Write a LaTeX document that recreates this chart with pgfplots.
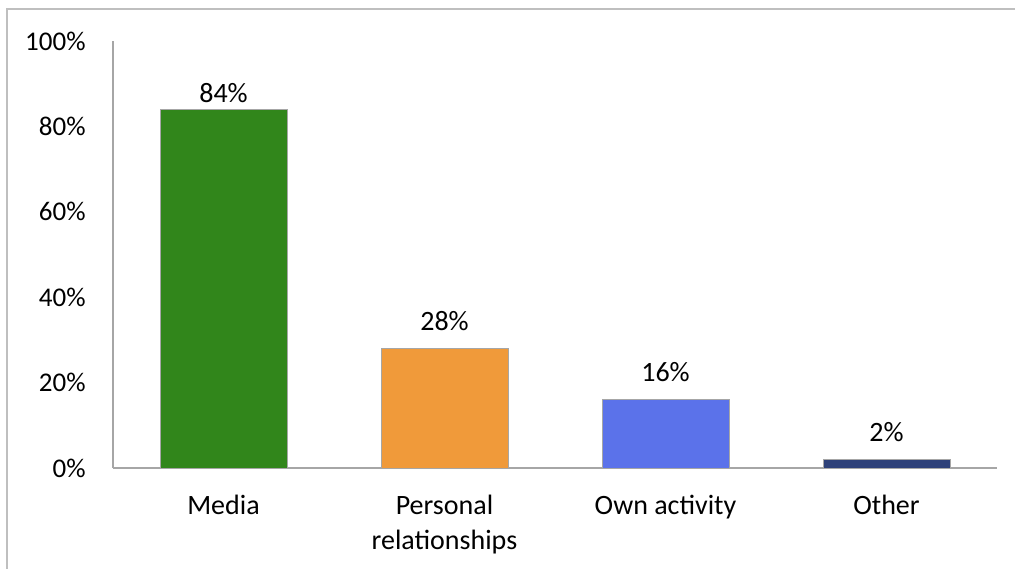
\documentclass[border=0pt]{standalone}
\usepackage{pgfplots}
\pgfplotsset{compat=1.18}
\usepackage{pgfplotstable}
\usepackage{fontspec}
\setmainfont{Carlito}
\definecolor{cMedia}{HTML}{31861B}
\definecolor{cPers}{HTML}{F09A3A}
\definecolor{cOwn}{HTML}{5B72EA}
\definecolor{cOther}{HTML}{2E4179}
\definecolor{frame}{HTML}{BFBFBF}
\definecolor{axl}{HTML}{A6A6A6}
\pgfplotstableread{
x y
0 84
}\tMedia
\pgfplotstableread{
x y
1 28
}\tPers
\pgfplotstableread{
x y
2 16
}\tOwn
\pgfplotstableread{
x y
3 2
}\tOther
\begin{document}
\fontsize{14}{17.5}\selectfont
\begin{tikzpicture}
\useasboundingbox (0,0) rectangle (507.5pt,284pt);
\draw[frame, line width=1pt] (3.5pt,-2pt) -- (3.5pt,279.5pt) -- (510pt,279.5pt);
\begin{axis}[
  at={(56.5pt,50pt)}, anchor=south west,
  scale only axis, width=442pt, height=213.5pt,
  xmin=-0.5, xmax=3.5, ymin=0, ymax=100,
  axis x line=bottom, axis y line=left,
  axis line style={axl, line width=0.6pt, -},
  xtick={0,1,2,3},
  xticklabels={Media, {Personal\\relationships}, Own activity, Other},
  xticklabel style={anchor=north, inner sep=0pt, yshift=-13.5pt, align=center, font=\fontsize{14}{17.5}\selectfont},
  ytick={0,20,40,60,80,100},
  yticklabel={\pgfmathprintnumber{\tick}\%},
  /pgf/number format/assume math mode=true,
  yticklabel style={anchor=east, inner sep=0pt, xshift=-13.5pt, font=\fontsize{13.5}{15}\selectfont},
  major tick length=0pt,
  tick style={draw=none},
  ybar, bar width=63.5pt, bar shift=0pt,
  nodes near coords={\pgfmathprintnumber{\pgfplotspointmeta}\%},
  every node near coord/.append style={anchor=south, inner sep=0pt, yshift=8.5pt, font=\fontsize{14}{15}\selectfont, /pgf/number format/assume math mode=true},
]
\addplot[fill=cMedia, draw=axl, line width=0.5pt, every node near coord/.append style={yshift=-5.5pt}] table[x=x,y=y] {\tMedia};
\addplot[fill=cPers, draw=axl, line width=0.5pt] table[x=x,y=y] {\tPers};
\addplot[fill=cOwn, draw=axl, line width=0.5pt] table[x=x,y=y] {\tOwn};
\addplot[fill=cOther, draw=axl, line width=0.5pt] table[x=x,y=y] {\tOther};
\end{axis}
\end{tikzpicture}
\end{document}
